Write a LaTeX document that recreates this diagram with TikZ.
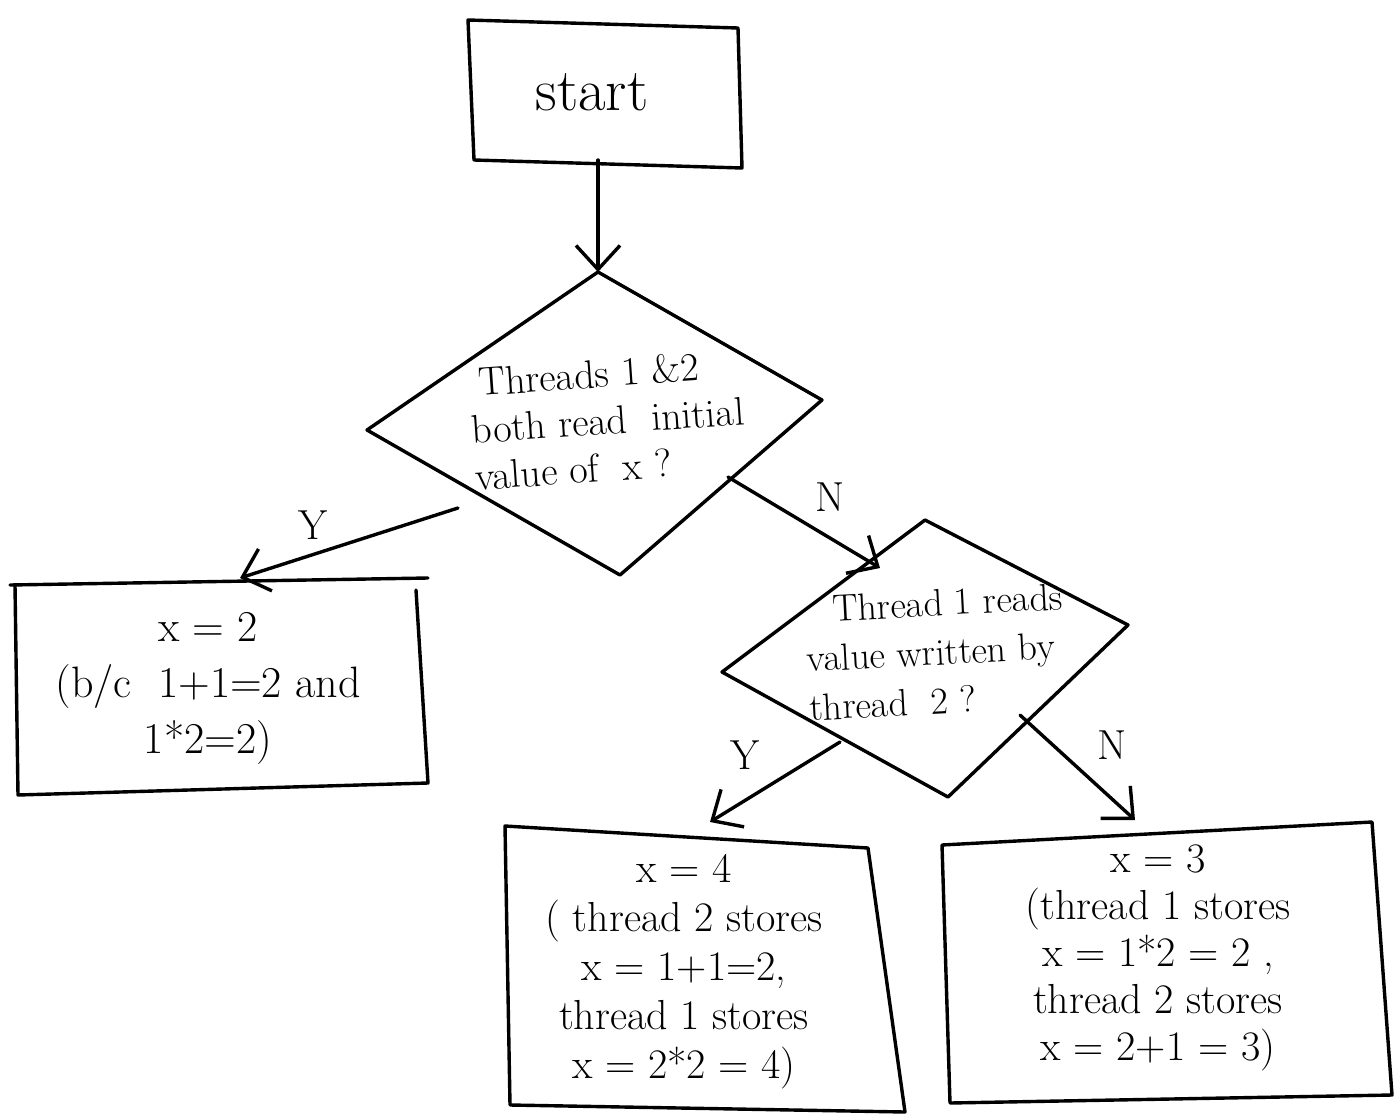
\documentclass[tikz,border=0pt]{standalone}
\usetikzlibrary{arrows.meta}
\begin{document}
\begin{tikzpicture}[x=1pt,y=-1pt,
  outline/.style={line width=3.4pt,line join=round,line cap=round},
  flow/.style={line width=3.4pt,line cap=round,-{Straight Barb[length=24pt,width=44pt,line width=3.4pt]}},
  label/.style={font=\fontsize{42}{46}\selectfont,inner sep=0pt},
  body/.style={font=\fontsize{43}{49}\selectfont,align=center,inner sep=0pt}]
\useasboundingbox (0,0) rectangle (1397,1116);

% start box
\draw[outline] (468,20) -- (738,28) -- (742,168) -- (474,160) -- cycle;
\node[body,font=\fontsize{60}{66}\selectfont] (start) at (592,92) {start};
\coordinate (startout) at (598,160);

% first decision
\coordinate (d1t) at (598,272);
\coordinate (d1l) at (367,430);
\coordinate (d1r) at (822,400);
\coordinate (d1b) at (620,575);
\draw[outline] (d1t) -- (d1r) -- (d1b) -- (d1l) -- cycle;
\node[body,align=left,rotate=4,font=\fontsize{40}{47}\selectfont] (q1) at (608,420)
  {\hspace*{10pt}Threads 1 \&2\\both read \ initial\\value of \ x ?};
\coordinate (d1y) at (458,508);
\coordinate (d1n) at (728,477);

% second decision
\coordinate (d2t) at (925,520);
\coordinate (d2l) at (722,672);
\coordinate (d2r) at (1128,625);
\coordinate (d2b) at (948,797);
\draw[outline] (d2t) -- (d2r) -- (d2b) -- (d2l) -- cycle;
\node[body,align=left,rotate=3,font=\fontsize{38}{49}\selectfont] (q2) at (936,652)
  {\hspace*{28pt}Thread 1 reads\\value written by\\thread \ 2 ?};
\coordinate (d2in) at (880,568);
\coordinate (d2y) at (840,742);
\coordinate (d2n) at (1020,715);

% outcome: x = 2
\draw[outline] (10,585) -- (428,578);
\draw[outline] (15,585) -- (18,795) -- (428,783) -- (416,590);
\node[body,font=\fontsize{44}{56}\selectfont] (r2) at (208,688) {x = 2\\(b/c \ 1+1=2 and\\1*2=2)};
\coordinate (r2in) at (240,578);

% outcome: x = 4
\draw[outline] (505,826) -- (868,848) -- (905,1112) -- (510,1105) -- cycle;
\node[body,font=\fontsize{42}{49}\selectfont] (r4) at (684,972) {x = 4\\( thread 2 stores\\x = 1+1=2,\\thread 1 stores\\x = 2*2 = 4)};
\coordinate (r4in) at (710,822);

% outcome: x = 3
\draw[outline] (942,845) -- (1372,822) -- (1392,1095) -- (950,1103) -- cycle;
\node[body,font=\fontsize{42}{47}\selectfont] (r3) at (1158,958) {x = 3\\(thread 1 stores\\x = 1*2 = 2 ,\\thread 2 stores\\x = 2+1 = 3)};
\coordinate (r3in) at (1135,820);

% connectors
\draw[flow] (startout) -- (d1t);
\draw[flow] (d1y) -- (r2in);
\draw[flow] (d1n) -- (d2in);
\draw[flow] (d2y) -- (r4in);
\draw[flow] (d2n) -- (r3in);

% branch labels
\node[label] (y1) at (313,525) {Y};
\node[label] (n1) at (830,497) {N};
\node[label] (y2) at (745,755) {Y};
\node[label] (n2) at (1112,745) {N};
\end{tikzpicture}
\end{document}
